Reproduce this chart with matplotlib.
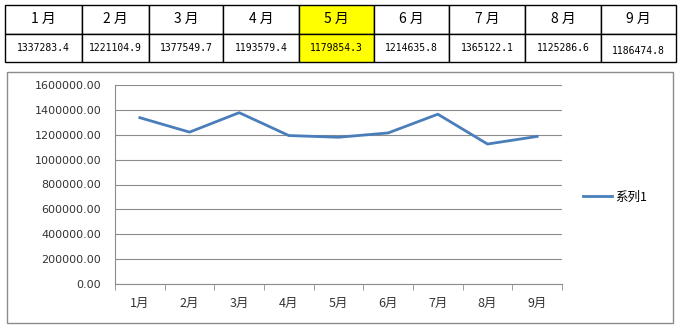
import matplotlib.pyplot as plt
from matplotlib.patches import Rectangle

plt.rcParams['font.family'] = ['Noto Sans CJK SC', 'DejaVu Sans']

months = ['1月', '2月', '3月', '4月', '5月', '6月', '7月', '8月', '9月']
table_months = ['1 月', '2 月', '3 月', '4 月', '5 月', '6 月', '7 月', '8 月', '9 月']
values = [1337283.4, 1221104.9, 1377549.7, 1193579.4, 1179854.3,
          1214635.8, 1365122.1, 1125286.6, 1186474.8]
highlight = 4
series_name = '系列1'

W, H = 679, 328
fig = plt.figure(figsize=(W / 100, H / 100), dpi=100)

# background layer in pixel coords
bg = fig.add_axes([0, 0, 1, 1])
bg.set_xlim(0, W)
bg.set_ylim(H, 0)
bg.axis('off')

# table on top
edges = [5, 82, 149, 223, 299, 374, 449, 525, 601, 676]
top, mid, bot = 5, 33.5, 62
for i in range(len(months)):
    x0, x1 = edges[i], edges[i + 1]
    fc = '#ffff00' if i == highlight else 'white'
    bg.add_patch(Rectangle((x0, top), x1 - x0, mid - top, facecolor=fc,
                           edgecolor='black', lw=1))
    bg.add_patch(Rectangle((x0, mid), x1 - x0, bot - mid, facecolor=fc,
                           edgecolor='black', lw=1))
    xc = (x0 + x1) / 2
    bg.text(xc, (top + mid) / 2, table_months[i], ha='center', va='center',
            fontsize=10)
    dy = 3 if i == len(months) - 1 else 0
    bg.text(xc, (mid + bot) / 2 + dy, f'{values[i]:.1f}', ha='center',
            va='center', fontsize=7, family='DejaVu Sans Mono')

# chart frame
bg.add_patch(Rectangle((7, 72), 666, 251, facecolor='white',
                       edgecolor='#8c8c8c', lw=1))

# plot area
px0, px1, py0, py1 = 115, 562, 85, 284
ax = fig.add_axes([px0 / W, 1 - py1 / H, (px1 - px0) / W, (py1 - py0) / H])
x = list(range(len(months)))
ax.plot(x, values, color='#4a7ebb', lw=2, label=series_name)
ax.set_xlim(-0.5, len(months) - 0.5)
ax.set_ylim(0, 1600000)
ax.set_yticks(range(0, 1600001, 200000))
ax.set_yticklabels([f'{v:.2f}' for v in range(0, 1600001, 200000)],
                   family='DejaVu Sans')
ax.set_xticks(x)
ax.set_xticklabels(months)
ax.yaxis.grid(True, color='#8c8c8c', lw=0.8)
ax.set_axisbelow(True)
for s in ['top', 'right']:
    ax.spines[s].set_visible(False)
ax.spines['left'].set_color('#8c8c8c')
ax.spines['bottom'].set_color('#8c8c8c')
ax.tick_params(axis='y', length=0, pad=10, labelsize=8, labelcolor='#333333')
ax.tick_params(axis='x', length=0, pad=9, labelsize=9, labelcolor='#333333')
# minor ticks between categories on x axis
ax.set_xticks([i - 0.5 for i in range(len(months) + 1)], minor=True)
ax.tick_params(axis='x', which='minor', length=4, color='#8c8c8c', direction='out')
ax.tick_params(axis='y', which='minor', length=0)

fig.legend(loc='center left', bbox_to_anchor=(583 / W, 1 - 197 / H),
           frameon=False, fontsize=9, handlelength=2.3, handletextpad=0.3,
           borderaxespad=0, borderpad=0)

fig.savefig('out.png', dpi=100)
